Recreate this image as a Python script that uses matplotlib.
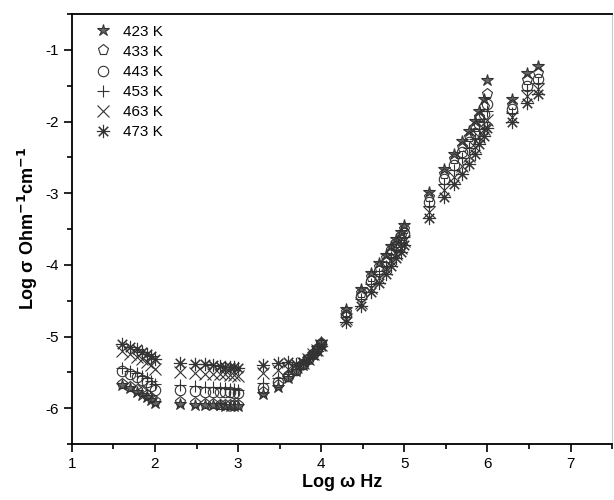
import numpy as np
import matplotlib
matplotlib.use('Agg')
import matplotlib.pyplot as plt
from matplotlib.ticker import MultipleLocator

plt.rcParams['font.family'] = ['Liberation Sans', 'DejaVu Sans']
plt.rcParams['axes.unicode_minus'] = False

# frequencies (Hz), plotted as log10
freq = [40, 50, 60, 70, 80, 90, 100,
        200, 300, 400, 500, 600, 700, 800, 900, 1000,
        2e3, 3e3, 4e3, 5e3, 6e3, 7e3, 8e3, 9e3, 1e4,
        2e4, 3e4, 4e4, 5e4, 6e4, 7e4, 8e4, 9e4, 1e5,
        2e5, 3e5, 4e5, 5e5, 6e5, 7e5, 8e5, 9e5, 1e6,
        2e6, 3e6, 4e6]

temps = ['423 K', '433 K', '443 K', '453 K', '463 K', '473 K']

s423 = [-5.68, -5.72, -5.77, -5.81, -5.85, -5.89, -5.93,
        -5.94, -5.95, -5.96, -5.96, -5.96, -5.97, -5.97, -5.97, -5.97,
        -5.80, -5.70, -5.58, -5.48, -5.40, -5.31, -5.24, -5.16, -5.07,
        -4.62, -4.34, -4.12, -3.98, -3.86, -3.74, -3.64, -3.54, -3.44,
        -2.99, -2.66, -2.45, -2.27, -2.13, -1.99, -1.85, -1.68, -1.42,
        -1.68, -1.32, -1.22]
s433 = [-5.66, -5.70, -5.74, -5.78, -5.82, -5.86, -5.90,
        -5.92, -5.93, -5.94, -5.94, -5.95, -5.95, -5.95, -5.96, -5.96,
        -5.78, -5.68, -5.57, -5.48, -5.40, -5.32, -5.25, -5.17, -5.09,
        -4.66, -4.39, -4.17, -4.03, -3.91, -3.79, -3.69, -3.60, -3.50,
        -3.06, -2.73, -2.53, -2.35, -2.21, -2.07, -1.94, -1.80, -1.61,
        -1.77, -1.42, -1.33]
s443 = [-5.48, -5.52, -5.56, -5.60, -5.64, -5.69, -5.74,
        -5.75, -5.76, -5.77, -5.77, -5.78, -5.78, -5.78, -5.79, -5.79,
        -5.72, -5.64, -5.55, -5.47, -5.39, -5.32, -5.25, -5.18, -5.10,
        -4.70, -4.43, -4.22, -4.08, -3.96, -3.84, -3.74, -3.65, -3.56,
        -3.12, -2.80, -2.60, -2.43, -2.29, -2.16, -2.03, -1.90, -1.75,
        -1.83, -1.50, -1.40]
s453 = [-5.44, -5.48, -5.51, -5.55, -5.58, -5.62, -5.66,
        -5.68, -5.69, -5.70, -5.71, -5.72, -5.72, -5.73, -5.73, -5.74,
        -5.65, -5.58, -5.52, -5.45, -5.38, -5.31, -5.25, -5.18, -5.11,
        -4.73, -4.48, -4.27, -4.13, -4.01, -3.89, -3.79, -3.70, -3.61,
        -3.18, -2.87, -2.67, -2.51, -2.37, -2.24, -2.11, -2.00, -1.86,
        -1.88, -1.56, -1.46]
s463 = [-5.20, -5.24, -5.28, -5.32, -5.36, -5.40, -5.45,
        -5.50, -5.51, -5.52, -5.52, -5.53, -5.53, -5.54, -5.54, -5.55,
        -5.51, -5.47, -5.45, -5.42, -5.37, -5.31, -5.25, -5.19, -5.12,
        -4.76, -4.53, -4.32, -4.18, -4.06, -3.95, -3.85, -3.76, -3.67,
        -3.26, -2.96, -2.77, -2.62, -2.48, -2.35, -2.22, -2.10, -1.98,
        -1.94, -1.65, -1.54]
s473 = [-5.11, -5.14, -5.18, -5.21, -5.24, -5.27, -5.31,
        -5.37, -5.38, -5.39, -5.40, -5.41, -5.42, -5.43, -5.43, -5.44,
        -5.40, -5.37, -5.36, -5.38, -5.36, -5.31, -5.26, -5.20, -5.13,
        -4.80, -4.58, -4.38, -4.25, -4.13, -4.01, -3.91, -3.82, -3.73,
        -3.34, -3.06, -2.87, -2.73, -2.59, -2.45, -2.31, -2.20, -2.09,
        -2.00, -1.74, -1.61]

series = [s423, s433, s443, s453, s463, s473]
markers = ['*', 'p', 'o', '+', 'x', (8, 2, 0)]
msizes = [9, 8, 7.5, 9, 8.5, 9.5]
faces = ['#666666', 'none', 'none', 'none', 'none', 'none']

logw = np.log10(freq)

fig = plt.figure(figsize=(6.14, 5.0), dpi=100)
ax = fig.add_axes([0.117, 0.112, 0.88, 0.86])

for lab, s, m, ms, fc in zip(temps, series, markers, msizes, faces):
    ax.plot(logw, s, linestyle='none', marker=m, markersize=ms,
            markerfacecolor=fc, markeredgecolor='#333333',
            markeredgewidth=0.8, label=lab)

ax.set_xlim(1, 7.5)
ax.set_ylim(-6.5, -0.5)
ax.xaxis.set_major_locator(MultipleLocator(1))
ax.xaxis.set_minor_locator(MultipleLocator(0.5))
ax.yaxis.set_major_locator(MultipleLocator(1))
ax.yaxis.set_minor_locator(MultipleLocator(0.5))
ax.tick_params(which='major', direction='out', length=6, width=1.2, labelsize=11)
ax.tick_params(which='minor', direction='out', length=3.5, width=1.2)

for sp in ['left', 'bottom', 'top']:
    ax.spines[sp].set_linewidth(1.3)
ax.spines['right'].set_color('#cccccc')
ax.spines['right'].set_linewidth(0.8)

ax.set_xlabel('Log \u03c9 Hz', fontsize=13, fontweight='bold', labelpad=2)
ax.set_ylabel('Log \u03c3 Ohm$^{\\mathbf{-1}}$cm$^{\\mathbf{-1}}$', fontsize=13,
              fontweight='bold', labelpad=4)

ax.legend(loc='upper left', frameon=False, fontsize=11, handletextpad=0.5,
          labelspacing=0.4, borderaxespad=0.3, handlelength=1.6,
          bbox_to_anchor=(0.015, 1.0))

fig.savefig('out.png', dpi=100)
